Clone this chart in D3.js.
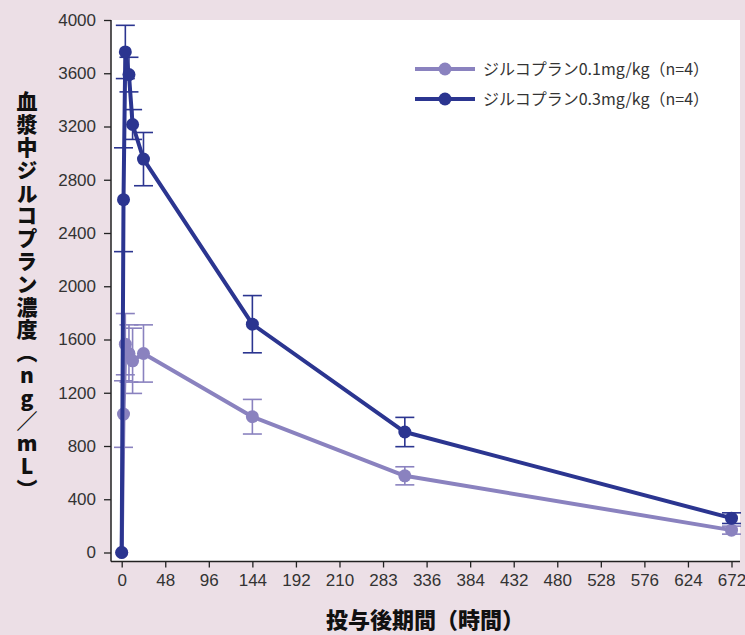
<!DOCTYPE html>
<html>
<head>
<meta charset="utf-8">
<script src="https://cdn.jsdelivr.net/npm/d3@7"></script>
<style>
  html, body { margin: 0; padding: 0; background: #ecdfe6; }
  svg { display: block; }
</style>
</head>
<body>
<svg id="chart" width="745" height="635"></svg>
<script>
// Sampling times (hours after dosing)
const hours = [0, 2, 4, 8, 12, 24, 144, 312, 672];

// Mean plasma concentration (ng/mL) and SD, per dose group
const dose01Mean = [0, 1040, 1565, 1495, 1440, 1495, 1020, 576, 168];
const dose01SD   = [0, 250, 230, 215, 245, 215, 130, 68, 30];
const dose03Mean = [0, 2650, 3760, 3590, 3215, 2955, 1715, 905, 258];
const dose03SD   = [0, 390, 200, 130, 112, 200, 215, 110, 40];

const seriesNames = ["ジルコプラン0.1mg/kg（n=4）", "ジルコプラン0.3mg/kg（n=4）"];

// Axis ticks
const xTickValues = [0, 48, 96, 144, 192, 240, 288, 336, 384, 432, 480, 528, 576, 624, 672];
const xTickLabels = ["0", "48", "96", "144", "192", "210", "283", "336", "384", "432", "480", "528", "576", "624", "672"];
const yTickValues = [0, 400, 800, 1200, 1600, 2000, 2400, 2800, 3200, 3600, 4000];

const yTitle = "血漿中ジルコプラン濃度（ng／mL）";
const xTitle = "投与後期間（時間）";

const colors = ["#8a82bf", "#2b3590"];
const axisColor = "#222";
const textColor = "#333";
const latinFont = "'Liberation Sans', Arial, 'Noto Sans CJK JP', sans-serif";
const cjkFont = "'Noto Sans CJK JP', sans-serif";

const svg = d3.select("#chart");

// Plot frame
const frame = { left: 111, right: 740, top: 20, bottom: 561.5 };
const x = d3.scaleLinear().domain([0, 672]).range([121.7, 731.5]);
const y = d3.scaleLinear().domain([0, 4000]).range([552.5, 20]);

svg.append("rect")
  .attr("x", frame.left).attr("y", frame.top)
  .attr("width", frame.right - frame.left)
  .attr("height", frame.bottom - frame.top)
  .attr("fill", "#ffffff");

// Axes
const yAxis = svg.append("g")
  .attr("transform", `translate(${frame.left},0)`)
  .call(d3.axisLeft(y).tickValues(yTickValues).tickSize(7).tickPadding(8).tickFormat(d3.format("d")));
const xAxis = svg.append("g")
  .attr("transform", `translate(0,${frame.bottom})`)
  .call(d3.axisBottom(x).tickValues(xTickValues).tickSize(6).tickPadding(6)
    .tickFormat((d, i) => xTickLabels[i]));

[yAxis, xAxis].forEach(g => {
  g.select(".domain").remove();
  g.selectAll(".tick line").attr("stroke", axisColor).attr("stroke-width", 1.3);
  g.selectAll(".tick text")
    .attr("fill", textColor)
    .style("font-family", latinFont)
    .style("font-size", "17px");
});

svg.append("line")
  .attr("x1", frame.left).attr("x2", frame.left)
  .attr("y1", frame.top).attr("y2", frame.bottom)
  .attr("stroke", axisColor).attr("stroke-width", 1.5);
svg.append("line")
  .attr("x1", frame.left).attr("x2", frame.right)
  .attr("y1", frame.bottom).attr("y2", frame.bottom)
  .attr("stroke", axisColor).attr("stroke-width", 1.5);

// Series
const series = [
  { name: seriesNames[0], mean: dose01Mean, sd: dose01SD, color: colors[0] },
  { name: seriesNames[1], mean: dose03Mean, sd: dose03SD, color: colors[1] }
];

const line = d3.line().x(d => x(d.t)).y(d => y(d.v));
const capHalf = 9.5;

series.forEach(s => {
  const pts = hours.map((t, i) => ({ t, v: s.mean[i], sd: s.sd[i] }));
  const g = svg.append("g");

  // error bars
  const eb = g.selectAll(".eb").data(pts.filter(p => p.sd > 0)).join("g");
  eb.append("line")
    .attr("x1", d => x(d.t)).attr("x2", d => x(d.t))
    .attr("y1", d => y(d.v + d.sd)).attr("y2", d => y(d.v - d.sd))
    .attr("stroke", s.color).attr("stroke-width", 1.6);
  [1, -1].forEach(sign => {
    eb.append("line")
      .attr("x1", d => x(d.t) - capHalf).attr("x2", d => x(d.t) + capHalf)
      .attr("y1", d => y(d.v + sign * d.sd)).attr("y2", d => y(d.v + sign * d.sd))
      .attr("stroke", s.color).attr("stroke-width", 1.6);
  });

  g.append("path")
    .datum(pts)
    .attr("d", line)
    .attr("fill", "none")
    .attr("stroke", s.color)
    .attr("stroke-width", 4)
    .attr("stroke-linejoin", "round");

  g.selectAll("circle").data(pts).join("circle")
    .attr("cx", d => x(d.t)).attr("cy", d => y(d.v))
    .attr("r", 6.5)
    .attr("fill", s.color);
});

// Legend
const legend = svg.append("g");
series.forEach((s, i) => {
  const ly = 69 + i * 30;
  legend.append("line")
    .attr("x1", 415).attr("x2", 475).attr("y1", ly).attr("y2", ly)
    .attr("stroke", s.color).attr("stroke-width", 4);
  legend.append("circle").attr("cx", 445).attr("cy", ly).attr("r", 6.5).attr("fill", s.color);
  legend.append("text")
    .attr("x", 483).attr("y", ly)
    .attr("dy", "0.36em")
    .attr("fill", textColor)
    .style("font-family", cjkFont)
    .style("font-size", "16px")
    .text(s.name);
});

// Y axis title, set vertically with upright glyphs
svg.append("text")
  .attr("x", 27)
  .attr("y", 91)
  .attr("fill", "#111")
  .style("font-family", cjkFont)
  .style("font-weight", 900)
  .style("font-size", "21px")
  .style("writing-mode", "vertical-rl")
  .style("text-orientation", "upright")
  .style("letter-spacing", "1.8px")
  .text(yTitle);

// X axis title
svg.append("text")
  .attr("x", 425).attr("y", 620)
  .attr("dy", "0.36em")
  .attr("text-anchor", "middle")
  .attr("fill", "#111")
  .style("font-family", cjkFont)
  .style("font-weight", 900)
  .style("font-size", "22px")
  .text(xTitle);
</script>
</body>
</html>
